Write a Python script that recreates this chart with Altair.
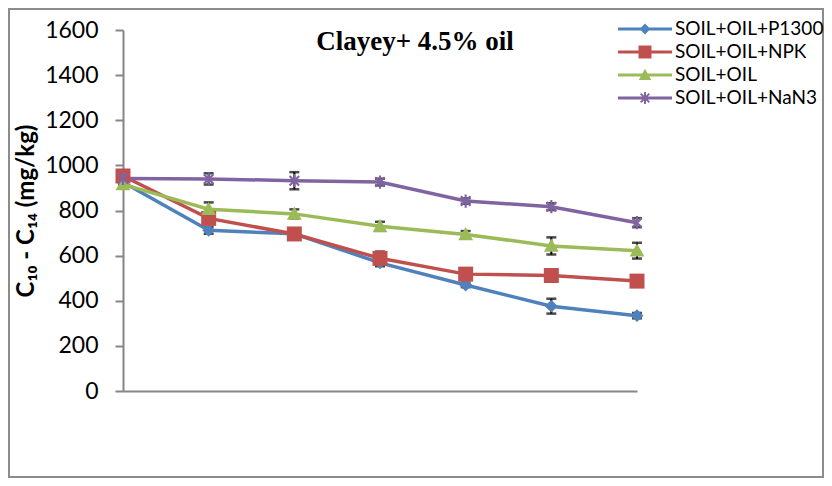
import altair as alt
import pandas as pd

series_names = ["SOIL+OIL+P1300", "SOIL+OIL+NPK", "SOIL+OIL", "SOIL+OIL+NaN3"]
colors = ["#4F81BD", "#C0504D", "#9BBB59", "#8064A2"]
samples = [1, 2, 3, 4, 5, 6, 7]

p1300 = [925, 712, 697, 568, 470, 376, 334]
npk = [953, 765, 696, 588, 518, 512, 487]
oil = [916, 806, 785, 730, 694, 643, 622]
nan3 = [942, 940, 932, 926, 842, 817, 746]

err_p1300 = [10, 15, 10, 15, 10, 33, 12]
err_npk = [10, 20, 10, 30, 10, 10, 10]
err_oil = [10, 30, 20, 20, 15, 38, 35]
err_nan3 = [10, 25, 38, 15, 12, 15, 20]

y_ticks = [0, 200, 400, 600, 800, 1000, 1200, 1400, 1600]

chart_title = "Clayey+ 4.5% oil"
y_title = "C\u2081\u2080 - C\u2081\u2084 (mg/kg)"

rows = []
for name, vals, errs in zip(series_names, [p1300, npk, oil, nan3],
                            [err_p1300, err_npk, err_oil, err_nan3]):
    for s, v, e in zip(samples, vals, errs):
        rows.append({"series": name, "sample": s, "value": v,
                     "lo": v - e, "hi": v + e})
df = pd.DataFrame(rows)

# marker shapes (unit coordinates)
diamond = "M0,-1L1,0L0,1L-1,0Z"
square = "M-1,-1L1,-1L1,1L-1,1Z"
triangle = "M0,-1L1,0.8L-1,0.8Z"
t = 0.16
d = t / 2 ** 0.5
a = 0.72
aster = (f"M{-t},-1L{t},-1L{t},1L{-t},1Z"
         f"M{-a + d},{-a - d}L{a + d},{a - d}L{a - d},{a + d}L{-a - d},{-a + d}Z"
         f"M{a + d},{-a + d}L{-a + d},{a + d}L{-a - d},{a - d}L{a - d},{-a - d}Z")

# legend symbols: line segment + marker
m = 1.0
lt = 0.14 * m
L = 2.5 * m
line_seg = f"M{-L},{-lt}L{L},{-lt}L{L},{lt}L{-L},{lt}Z"
k = 0.5 * m
leg_diamond = line_seg + f"M0,{-k}L{k},0L0,{k}L{-k},0Z"
k2 = 0.6 * m
leg_square = line_seg + f"M{-k2},{-k2}L{k2},{-k2}L{k2},{k2}L{-k2},{k2}Z"
k3 = 0.58 * m
leg_triangle = line_seg + f"M0,{-k3}L{k3},{k3*0.8}L{-k3},{k3*0.8}Z"
s = 0.55 * m
ts = 0.09 * m
ds = ts / 2 ** 0.5
as_ = 0.4 * m
leg_aster = line_seg + (
    f"M{-ts},{-s}L{ts},{-s}L{ts},{s}L{-ts},{s}Z"
    f"M{-as_ + ds},{-as_ - ds}L{as_ + ds},{as_ - ds}L{as_ - ds},{as_ + ds}L{-as_ - ds},{-as_ + ds}Z"
    f"M{as_ + ds},{-as_ + ds}L{-as_ + ds},{as_ + ds}L{-as_ - ds},{as_ - ds}L{as_ - ds},{-as_ - ds}Z")

color_scale = alt.Scale(domain=series_names, range=colors)

x_enc = alt.X("sample:Q", scale=alt.Scale(domain=[1, 7], nice=False, zero=False),
              axis=alt.Axis(labels=False, ticks=False, title=None, grid=False,
                            domainColor="#868686", domainWidth=2))
y_scale = alt.Scale(domain=[0, 1600], nice=False)
y_axis = alt.Axis(values=y_ticks, format="d", grid=False, domainColor="#868686", domainWidth=2,
                  tickColor="#868686", tickWidth=2, tickSize=8,
                  labelFont="Lato", labelFontSize=23, labelColor="black", labelPadding=17,
                  title=y_title, titleFont="Lato", titleFontSize=24, titleFontWeight="bold",
                  titleColor="black", titlePadding=6)
y_enc = alt.Y("value:Q", scale=y_scale, axis=y_axis)

base = alt.Chart(df)

frame = alt.Chart(pd.DataFrame({"k": [0]})).mark_rect(
    filled=False, stroke="#8C8C8C", strokeWidth=2
).encode(x=alt.value(-114), x2=alt.value(700), y=alt.value(-21), y2=alt.value(447))

leg = alt.Legend(title=None, orient="none", legendX=511, legendY=-12)
legend_layer = base.transform_filter("datum.sample < 0").mark_point(
    filled=True, opacity=1, strokeWidth=0
).encode(
    x=x_enc, y=y_enc,
    color=alt.Color("series:N", scale=color_scale, legend=leg),
    shape=alt.Shape("series:N",
                    scale=alt.Scale(domain=series_names,
                                    range=[leg_diamond, leg_square, leg_triangle, leg_aster]),
                    legend=leg),
)

err_rule = base.mark_rule(color="black", strokeWidth=2).encode(
    x=x_enc, y=alt.Y("lo:Q", scale=y_scale, axis=y_axis), y2="hi:Q")
cap_lo = base.mark_tick(color="black", orient="horizontal", size=10, thickness=2.5).encode(
    x=x_enc, y=alt.Y("lo:Q", scale=y_scale, axis=y_axis))
cap_hi = base.mark_tick(color="black", orient="horizontal", size=10, thickness=2.5).encode(
    x=x_enc, y=alt.Y("hi:Q", scale=y_scale, axis=y_axis))

line_layers = []
for name, c in zip(series_names, colors):
    line_layers.append(
        base.transform_filter(alt.datum.series == name).mark_line(
            strokeWidth=3.5, color=c
        ).encode(x=x_enc, y=y_enc, order="sample:Q")
    )

marker_shapes = [diamond, square, triangle, aster]
marker_sizes = [165, 225, 220, 175]
point_layers = []
for name, c, shp, sz in zip(series_names, colors, marker_shapes, marker_sizes):
    point_layers.append(
        base.transform_filter(alt.datum.series == name).mark_point(
            shape=shp, filled=True, size=sz, opacity=1, strokeWidth=0, color=c
        ).encode(x=x_enc, y=y_enc)
    )

chart = alt.layer(legend_layer, frame, err_rule, cap_lo, cap_hi, *line_layers, *point_layers).properties(
    width=514, height=361,
    autosize=alt.AutoSizeParams(type="none"),
    padding={"left": 115, "top": 22, "right": 187, "bottom": 87},
    title=alt.TitleParams(chart_title, font="Liberation Serif", fontSize=27, fontWeight="bold",
                          color="black", anchor="middle", frame="group", dx=35,
                          baseline="alphabetic", offset=-69),
).configure_view(stroke=None).configure_legend(
    padding=0, symbolSize=466, labelOffset=19, rowPadding=2,
    labelFont="Lato", labelFontSize=19, labelColor="black", symbolStrokeWidth=0,
)

chart.save("out.html", embed_options={"renderer": "svg", "actions": False})
